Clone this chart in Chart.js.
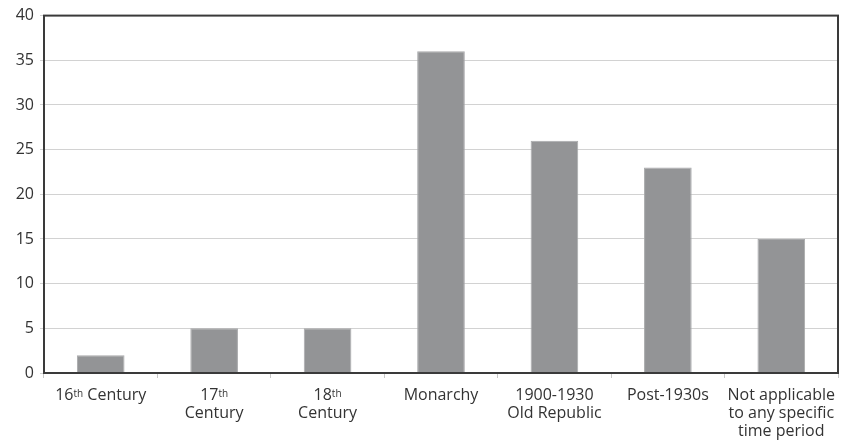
<!DOCTYPE html>
<html>
<head>
<meta charset="utf-8">
<script src="https://cdn.jsdelivr.net/npm/chart.js@4/dist/chart.umd.min.js"></script>
<style>
  html, body { margin: 0; padding: 0; background: #fff; }
  #wrap { width: 844px; height: 441px; }
</style>
</head>
<body>
<div id="wrap"><canvas id="grafik"></canvas></div>
<script>
// kategori etiketleri: [ana metin, üst simge, ek] satır satır
const kategoriler = ["16th Century", "17th Century", "18th Century", "Monarchy", "1900-1930 Old Republic", "Post-1930s", "Not applicable to any specific time period"];
const etiketSatirlari = [
    [["16", "th", " Century"]],
    [["17", "th", ""], ["Century"]],
    [["18", "th", ""], ["Century"]],
    [["Monarchy"]],
    [["1900-1930"], ["Old Republic"]],
    [["Post-1930s"]],
    [["Not applicable"], ["to any specific"], ["time period"]]
];
const degerler = [2, 5, 5, 36, 26, 23, 15];
const yMax = 40;
const yAdim = 5;

const yaziTipi = "'Open Sans', Lato, sans-serif";
const yaziRengi = "#333";

// çerçeve ve x etiketleri
const cercevePlugin = {
    id: "cerceve",
    afterDraw(chart) {
        const { ctx, chartArea: a, scales } = chart;
        ctx.save();
        ctx.strokeStyle = "#3a3a3a";
        ctx.lineWidth = 2;
        ctx.strokeRect(a.left, a.top, a.right - a.left, a.bottom - a.top);

        ctx.fillStyle = yaziRengi;
        ctx.textBaseline = "alphabetic";
        etiketSatirlari.forEach((satirlar, i) => {
            const x = scales.x.getPixelForValue(i);
            satirlar.forEach((parca, j) => {
                const y = a.bottom + 27 + j * 18;
                ctx.font = "16px " + yaziTipi;
                const w0 = ctx.measureText(parca[0]).width;
                let w1 = 0, w2 = 0;
                if (parca.length > 1) {
                    ctx.font = "10px " + yaziTipi;
                    w1 = ctx.measureText(parca[1]).width;
                    ctx.font = "16px " + yaziTipi;
                    w2 = ctx.measureText(parca[2]).width;
                }
                let bas = x - (w0 + w1 + w2) / 2;
                ctx.textAlign = "left";
                ctx.font = "16px " + yaziTipi;
                ctx.fillText(parca[0], bas, y);
                if (parca.length > 1) {
                    ctx.font = "10px " + yaziTipi;
                    ctx.fillText(parca[1], bas + w0, y - 3);
                    ctx.font = "16px " + yaziTipi;
                    ctx.fillText(parca[2], bas + w0 + w1, y);
                }
            });
        });
        ctx.restore();
    }
};

new Chart(document.getElementById("grafik"), {
    type: "bar",
    data: {
        labels: kategoriler,
        datasets: [{
            data: degerler,
            backgroundColor: "#939496",
            borderColor: "#a8a9ab",
            borderWidth: 1,
            barPercentage: 0.42,
            categoryPercentage: 1
        }]
    },
    options: {
        responsive: true,
        maintainAspectRatio: false,
        animation: false,
        layout: { padding: { top: 14, right: 6, left: 0, bottom: 0 } },
        plugins: {
            legend: { display: false },
            tooltip: { enabled: false }
        },
        scales: {
            x: {
                afterFit(scale) { scale.height = 68; },
                grid: {
                    drawOnChartArea: false,
                    drawTicks: true,
                    tickLength: 5,
                    color: "#c8c8c8"
                },
                border: { display: false },
                ticks: { display: false }
            },
            y: {
                min: 0,
                max: yMax,
                afterFit(scale) { scale.width = 44; },
                ticks: {
                    stepSize: yAdim,
                    color: yaziRengi,
                    padding: 6,
                    font: { family: yaziTipi, size: 16 }
                },
                grid: {
                    color: "#d2d2d2",
                    lineWidth: 1,
                    tickLength: 4
                },
                border: { display: false }
            }
        }
    },
    plugins: [cercevePlugin]
});
</script>
</body>
</html>
